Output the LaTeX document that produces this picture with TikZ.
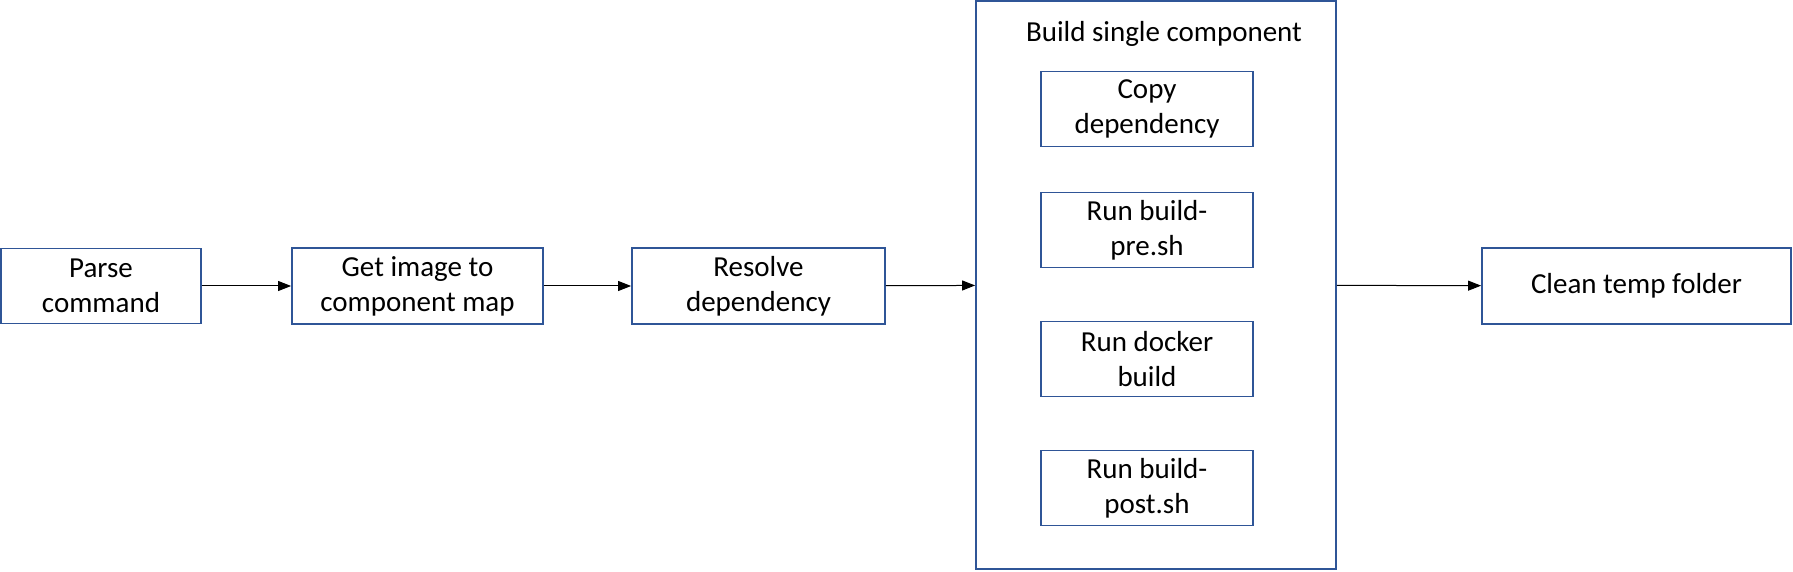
\documentclass[tikz,border=0pt]{standalone}
\usepackage{fontspec}
\setmainfont{Carlito}
\usepackage{xcolor}
\usepackage{tikz}
\usetikzlibrary{arrows.meta,positioning}
\definecolor{mainc}{HTML}{2F5597}
\tikzset{
  ar/.style={-{Triangle[length=6.5pt,width=5pt]},line width=0.5pt,black},
  box/.style={draw=mainc,line width=0.9pt,align=center,inner sep=2pt,font=\fontsize{14.5}{17.5}\selectfont}
}
\begin{document}
\begin{tikzpicture}[x=0.5pt,y=-0.5pt]
\useasboundingbox (0,0) rectangle (1793,572);
% main chain
\node[box,minimum width=100pt,minimum height=37.5pt] (parse) at (101,286) {Parse\\command};
\node[box,minimum width=125.5pt,minimum height=38pt] (getmap) at (417.5,286) {Get image to\\component map};
\node[box,minimum width=126.5pt,minimum height=38pt] (resolve) at (758.5,286) {Resolve\\dependency};
\node[box,minimum width=180pt,minimum height=284pt] (build) at (1156,285) {};
\node[font=\fontsize{14.5}{17.5}\selectfont] (buildt) at (1164,34) {Build single component};
\node[box,minimum width=154.5pt,minimum height=38pt] (clean) at (1636.5,286) {Clean temp folder};
% steps inside
\node[box,minimum width=106pt,minimum height=37.5pt] (copy) at (1147,109) {Copy\\dependency};
\node[box,minimum width=106pt,minimum height=37.5pt] (pre) at (1147,230) {Run build-\\pre.sh};
\node[box,minimum width=106pt,minimum height=37.5pt] (docker) at (1147,359) {Run docker\\build};
\node[box,minimum width=106pt,minimum height=37.5pt] (post) at (1147,488) {Run build-\\post.sh};
% arrows
\draw[ar] (parse) -- (getmap);
\draw[ar] (getmap) -- (resolve);
\draw[ar] (resolve) -- (build);
\draw[ar] (build) -- (clean);
\end{tikzpicture}
\end{document}
